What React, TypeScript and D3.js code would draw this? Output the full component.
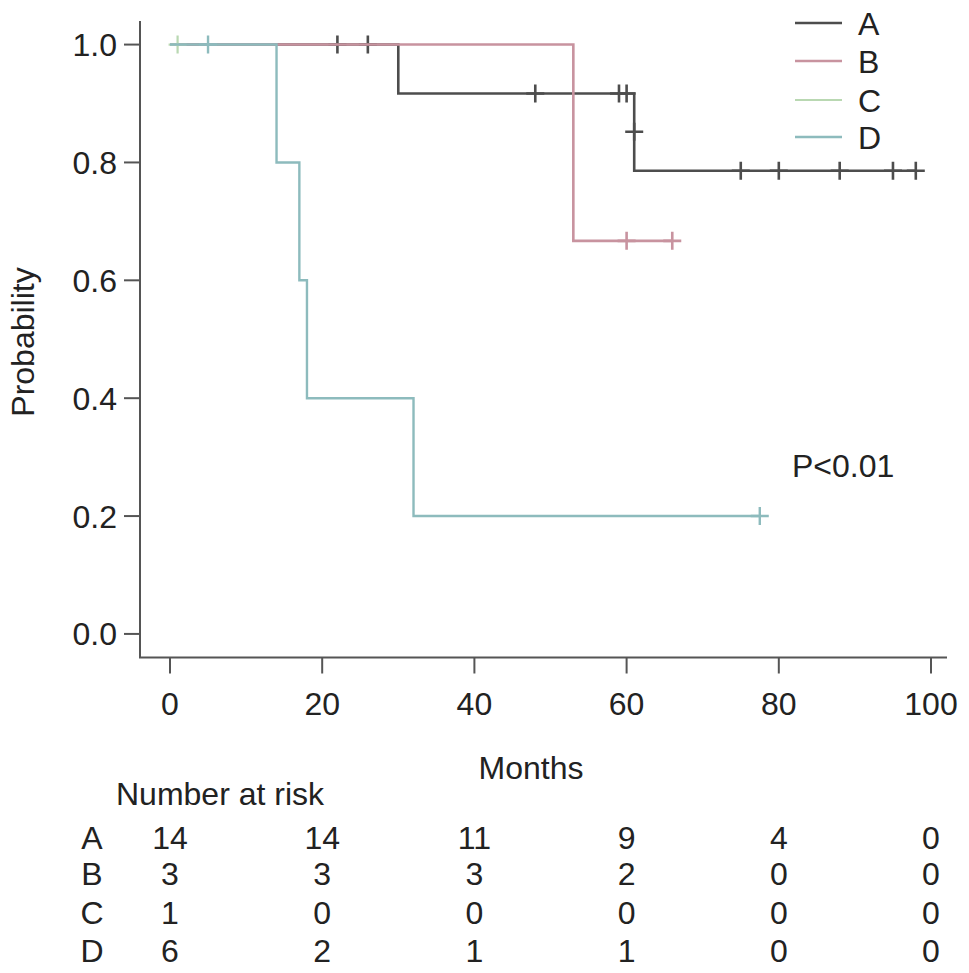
import * as d3 from 'd3';

const groups = ['A', 'B', 'C', 'D'];
const colors = ['#4d4d4d', '#c8939f', '#b9d8b2', '#8dbbbd'];
const widths = [2.6, 2.6, 2.2, 2.4];

// step curves: event times and survival after each step
const stepTimes = [
  [0, 30, 61],
  [0, 53],
  [0],
  [0, 14, 17, 18, 32],
];
const stepSurv = [
  [1, 0.917, 0.786],
  [1, 0.667],
  [1],
  [1, 0.8, 0.6, 0.4, 0.2],
];
const endTimes = [98, 66, 1, 77.5];

// censor marks
const censorTimes = [
  [22, 26, 48, 59, 60, 61, 75, 80, 88, 95, 98],
  [60, 66],
  [1],
  [5, 77.5],
];
const censorSurv = [
  [1, 1, 0.917, 0.917, 0.917, 0.852, 0.786, 0.786, 0.786, 0.786, 0.786],
  [0.667, 0.667],
  [1],
  [1, 0.2],
];

const xTicks = [0, 20, 40, 60, 80, 100];
const yTicks = [0, 0.2, 0.4, 0.6, 0.8, 1.0];
const riskTimes = [0, 20, 40, 60, 80, 100];
const riskCounts = [
  [14, 14, 11, 9, 4, 0],
  [3, 3, 3, 2, 0, 0],
  [1, 0, 0, 0, 0, 0],
  [6, 2, 1, 1, 0, 0],
];

const W = 969;
const H = 973;
const font = '"Liberation Sans", Arial, sans-serif';
const fs = 32;

export default function App() {
  const x = d3.scaleLinear().domain([-3.94, 102.1]).range([140, 947]);
  const y = d3.scaleLinear().domain([-0.04, 1.04]).range([657.5, 21]);

  const line = d3
    .line<[number, number]>()
    .x(d => x(d[0]))
    .y(d => y(d[1]))
    .curve(d3.curveStepAfter);

  const fmt = d3.format('.1f');
  const [x0, x1] = x.range();
  const [yb, yt] = y.range();
  const arm = 9;

  return (
    <svg
      width={W}
      height={H}
      style={{ position: 'absolute', left: 0, top: 0, background: '#fff' }}
      fontFamily={font}
      fontSize={fs}
    >
      {/* axes, L-shaped box */}
      <path d={`M${x0},${yt}V${yb}H${x1}`} fill="none" stroke="#555" strokeWidth={2} />
      {yTicks.map(t => (
        <g key={'y' + t}>
          <line x1={x0 - 16} x2={x0} y1={y(t)} y2={y(t)} stroke="#555" strokeWidth={2} />
          <text x={117} y={y(t)} dy="0.36em" textAnchor="end" fill="#222">
            {fmt(t)}
          </text>
        </g>
      ))}
      {xTicks.map(t => (
        <g key={'x' + t}>
          <line x1={x(t)} x2={x(t)} y1={yb} y2={yb + 16} stroke="#555" strokeWidth={2} />
          <text x={x(t)} y={703} dy="0.36em" textAnchor="middle" fill="#222">
            {t}
          </text>
        </g>
      ))}
      <text transform={`translate(34,342) rotate(-90)`} textAnchor="middle" fill="#222">
        Probability
      </text>
      <text x={531} y={767} dy="0.36em" textAnchor="middle" fill="#222">
        Months
      </text>

      {/* curves */}
      {groups.map((g, i) => {
        const pts: [number, number][] = stepTimes[i].map((t, j) => [t, stepSurv[i][j]]);
        pts.push([endTimes[i], stepSurv[i][stepSurv[i].length - 1]]);
        return (
          <g key={g}>
            <path d={line(pts) || ''} fill="none" stroke={colors[i]} strokeWidth={widths[i]} />
            {censorTimes[i].map((t, j) => (
              <path
                key={j}
                d={`M${x(t) - arm},${y(censorSurv[i][j])}h${arm * 2}M${x(t)},${y(censorSurv[i][j]) - arm}v${arm * 2}`}
                stroke={colors[i]}
                strokeWidth={widths[i]}
              />
            ))}
          </g>
        );
      })}

      {/* legend */}
      {groups.map((g, i) => {
        const ly = [23, 61, 100, 137][i];
        return (
          <g key={'lg' + g}>
            <line x1={795} x2={842} y1={ly} y2={ly} stroke={colors[i]} strokeWidth={widths[i]} />
            <text x={858} y={ly} dy="0.36em" fill="#222">
              {g}
            </text>
          </g>
        );
      })}

      <text x={792} y={465} dy="0.36em" fill="#222">
        P&lt;0.01
      </text>

      {/* risk table */}
      <text x={116} y={793} dy="0.36em" fill="#222">
        Number at risk
      </text>
      {groups.map((g, i) => {
        const ry = [837, 873, 912, 950][i];
        return (
          <g key={'r' + g}>
            <text x={92} y={ry} dy="0.36em" textAnchor="middle" fill="#222">
              {g}
            </text>
            {riskTimes.map((t, j) => (
              <text key={j} x={x(t)} y={ry} dy="0.36em" textAnchor="middle" fill="#222">
                {riskCounts[i][j]}
              </text>
            ))}
          </g>
        );
      })}
    </svg>
  );
}
